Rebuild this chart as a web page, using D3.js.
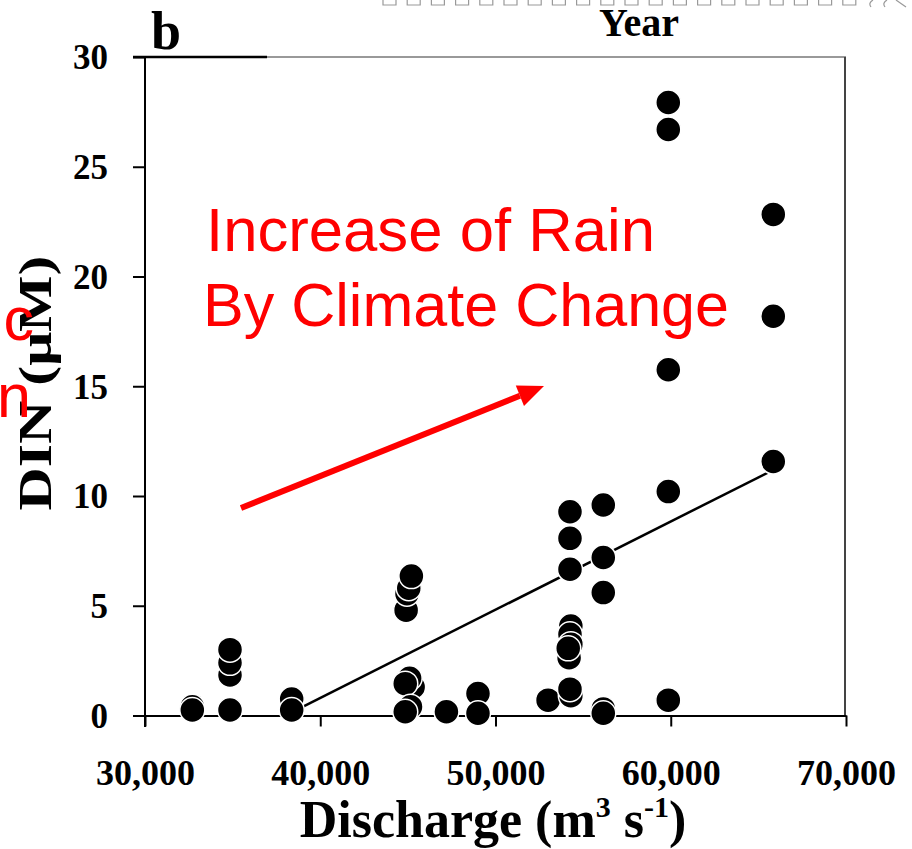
<!DOCTYPE html>
<html><head><meta charset="utf-8">
<script src="https://cdn.jsdelivr.net/npm/d3@7"></script>
<style>body{margin:0;background:#fff}</style>
</head><body><svg id="c" width="912" height="849"></svg>
<script>
// ---- data ----
const discharge = [32700, 32700, 34850, 34850, 34850, 34850, 38370, 38370,
  44900, 44950, 45050, 45200, 45300, 45100, 44850, 45150, 44850,
  47200, 49000, 49000, 53000,
  54250, 54250, 54250, 54300, 54250, 54300, 54200, 54150, 54300, 54250,
  56150, 56150, 56150, 56150, 56150,
  59860, 59860, 59860, 59860, 59860,
  65850, 65850, 65850];
const din = [0.4, 0.25, 0.25, 1.85, 2.4, 3.0, 0.75, 0.25,
  4.8, 5.55, 5.8, 6.35, 1.3, 1.7, 1.45, 0.4, 0.17,
  0.17, 1.0, 0.1, 0.7,
  9.28, 8.07, 6.66, 4.08, 3.7, 3.25, 2.63, 3.06, 0.9, 1.2,
  9.59, 7.2, 5.6, 0.3, 0.1,
  27.93, 26.7, 15.75, 10.2, 0.7,
  22.83, 18.19, 11.57];
const xTicks = [30000, 40000, 50000, 60000, 70000];
const yTicks = [0, 5, 10, 15, 20, 25, 30];
const trendX = [38370, 65850];
const trendY = [0.14, 11.19];
const annotationLines = ["Increase of Rain", "By Climate Change"];
const clippedLetters = ["c", "n"];

const svg = d3.select("#c");
const x = d3.scaleLinear().domain([30000, 70000]).range([145, 846]);
const y = d3.scaleLinear().domain([0, 30]).range([715.5, 57]);
const serif = "'Liberation Serif','Times New Roman',serif";
const sans = "'Liberation Sans',Arial,sans-serif";

// faint clipped marks at the very top (remnant of upper panel)
const marks = svg.append("g").attr("stroke", "#999").attr("fill", "none").attr("stroke-width", 1.2);
d3.range(20).forEach(i => {
  const x0 = 383 + i * 24.2;
  marks.append("path").attr("d", `M${x0},0V5H${x0 + 13}V0`);
});
[868, 882].forEach(px => marks.append("path").attr("d", `M${px + 5},0Q${px},3 ${px + 3},7`));
marks.append("path").attr("d", "M896,0L906,7");

// "Year" title of the upper panel
svg.append("text").attr("x", 639).attr("y", 36).attr("text-anchor", "middle")
  .attr("font-family", serif).attr("font-weight", "bold").attr("font-size", 40).text("Year");

// panel label b
svg.append("text").attr("x", 151).attr("y", 49)
  .attr("font-family", serif).attr("font-weight", "bold").attr("font-size", 54).text("b");

// frame
svg.append("line").attr("x1", 145).attr("x2", 846).attr("y1", y(30)).attr("y2", y(30))
  .attr("stroke", "#777").attr("stroke-width", 1.5);
svg.append("line").attr("x1", 845).attr("x2", 845).attr("y1", y(30)).attr("y2", y(0))
  .attr("stroke", "#444").attr("stroke-width", 2);
svg.append("line").attr("x1", 133).attr("x2", 267).attr("y1", y(30)).attr("y2", y(30))
  .attr("stroke", "#000").attr("stroke-width", 2.5);

// x axis
const gx = svg.append("g").attr("transform", `translate(0,${y(0)})`)
  .call(d3.axisBottom(x).tickValues(xTicks).tickFormat(d3.format(",")).tickSize(11).tickSizeOuter(0));
gx.select(".domain").attr("stroke-width", 2);
gx.selectAll(".tick line").attr("stroke-width", 2);
gx.selectAll(".tick text").attr("y", 69).attr("dy", 0)
  .attr("font-family", serif).attr("font-weight", "bold").attr("font-size", 36).attr("fill", "#000");

// y axis
const gy = svg.append("g").attr("transform", `translate(${x(30000)},0)`)
  .call(d3.axisLeft(y).tickValues(yTicks).tickSize(12).tickSizeOuter(0));
gy.select(".domain").remove();
gy.append("line").attr("x1", 0).attr("x2", 0).attr("y1", y(30)).attr("y2", 727)
  .attr("stroke", "#000").attr("stroke-width", 2);
gy.selectAll(".tick line").attr("stroke-width", 2);
gy.selectAll(".tick text").attr("x", -37).attr("dy", "0.34em")
  .attr("font-family", serif).attr("font-weight", "bold").attr("font-size", 35).attr("fill", "#000");

// axis titles
svg.append("text").attr("transform", "translate(51,383) rotate(-90)").attr("text-anchor", "middle")
  .attr("font-family", serif).attr("font-weight", "bold").attr("font-size", 46)
  .attr("textLength", 255).attr("lengthAdjust", "spacingAndGlyphs").text("DIN (μM)");

const xt = svg.append("text").attr("x", 493).attr("y", 837).attr("text-anchor", "middle")
  .attr("font-family", serif).attr("font-weight", "bold").attr("font-size", 52);
xt.append("tspan").text("Discharge (m");
xt.append("tspan").attr("dy", -20).attr("font-size", 30).text("3");
xt.append("tspan").attr("dy", 20).text(" s");
xt.append("tspan").attr("dy", -20).attr("font-size", 30).text("-1");
xt.append("tspan").attr("dy", 20).text(")");

// regression line
svg.append("line")
  .attr("x1", x(trendX[0])).attr("y1", y(trendY[0]))
  .attr("x2", x(trendX[1])).attr("y2", y(trendY[1]))
  .attr("stroke", "#000").attr("stroke-width", 2.5);

// points
svg.append("g").selectAll("circle").data(discharge).join("circle")
  .attr("cx", d => x(d)).attr("cy", (d, i) => y(din[i])).attr("r", 12.5)
  .attr("fill", "#000").attr("stroke", "#fff").attr("stroke-width", 1.5);

// red annotation
svg.append("g").selectAll("text").data(annotationLines).join("text")
  .attr("x", (d, i) => i === 0 ? 206 : 203).attr("y", (d, i) => i === 0 ? 251 : 326)
  .attr("font-family", sans).attr("font-size", 61).attr("fill", "#ff0000")
  .attr("textLength", (d, i) => i === 0 ? 449 : 526).attr("lengthAdjust", "spacingAndGlyphs")
  .text(d => d);
svg.append("g").selectAll("text").data(clippedLetters).join("text")
  .attr("x", (d, i) => i === 0 ? 34 : 31).attr("y", (d, i) => i === 0 ? 340 : 417)
  .attr("text-anchor", "end")
  .attr("font-family", sans).attr("font-size", 61).attr("fill", "#ff0000").text(d => d);

// red arrow
const ax1 = 241, ay1 = 508, ax2 = 544, ay2 = 386;
const ang = Math.atan2(ay2 - ay1, ax2 - ax1);
const hl = 26, hw = 11;
const bx = ax2 - hl * Math.cos(ang), by = ay2 - hl * Math.sin(ang);
svg.append("line").attr("x1", ax1).attr("y1", ay1).attr("x2", bx).attr("y2", by)
  .attr("stroke", "#ff0000").attr("stroke-width", 6);
svg.append("path").attr("fill", "#ff0000")
  .attr("d", `M${ax2},${ay2}L${bx + hw * Math.sin(ang)},${by - hw * Math.cos(ang)}L${bx - hw * Math.sin(ang)},${by + hw * Math.cos(ang)}Z`);
</script>
</body></html>
